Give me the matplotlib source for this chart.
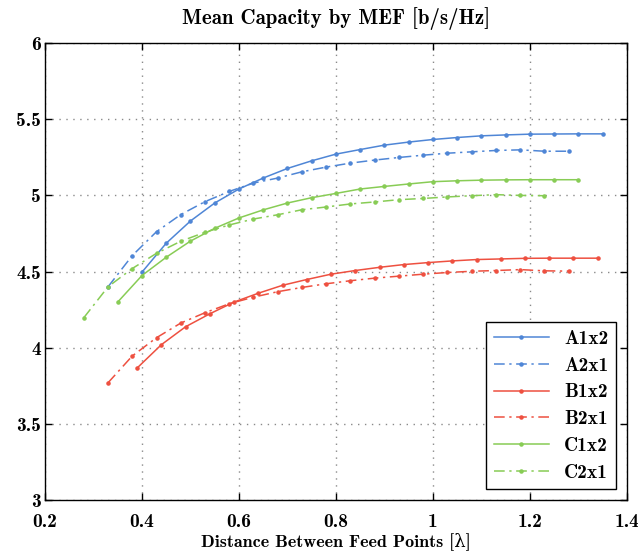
import numpy as np
import matplotlib
matplotlib.use('Agg')
import matplotlib.pyplot as plt

# ---------------------------------------------
# Mean capacity vs. feed point spacing
# ---------------------------------------------
x_a1x2 = [0.40, 0.45, 0.50, 0.55, 0.60, 0.65, 0.70, 0.75, 0.80, 0.85,
          0.90, 0.95, 1.00, 1.05, 1.10, 1.15, 1.20, 1.25, 1.30, 1.35]
cap_a1x2 = [4.496, 4.686, 4.832, 4.950, 5.042, 5.114, 5.177, 5.227, 5.271, 5.301,
            5.330, 5.350, 5.367, 5.380, 5.391, 5.397, 5.402, 5.403, 5.404, 5.404]

x_a2x1 = [0.33, 0.38, 0.43, 0.48, 0.53, 0.58, 0.63, 0.68, 0.73, 0.78,
          0.83, 0.88, 0.93, 0.98, 1.03, 1.08, 1.13, 1.18, 1.23, 1.28]
cap_a2x1 = [4.400, 4.605, 4.762, 4.874, 4.959, 5.026, 5.081, 5.114, 5.155, 5.186,
            5.212, 5.232, 5.249, 5.264, 5.277, 5.286, 5.295, 5.299, 5.290, 5.290]

x_b1x2 = [0.39, 0.44, 0.49, 0.54, 0.59, 0.64, 0.69, 0.74, 0.79, 0.84,
          0.89, 0.94, 0.99, 1.04, 1.09, 1.14, 1.19, 1.24, 1.29, 1.34]
cap_b1x2 = [3.867, 4.020, 4.138, 4.223, 4.300, 4.358, 4.410, 4.448, 4.483, 4.507,
            4.528, 4.546, 4.559, 4.570, 4.579, 4.583, 4.587, 4.588, 4.588, 4.588]

x_b2x1 = [0.33, 0.38, 0.43, 0.48, 0.53, 0.58, 0.63, 0.68, 0.73, 0.78,
          0.83, 0.88, 0.93, 0.98, 1.03, 1.08, 1.13, 1.18, 1.23, 1.28]
cap_b2x1 = [3.770, 3.946, 4.066, 4.162, 4.230, 4.289, 4.332, 4.368, 4.396, 4.420,
            4.440, 4.457, 4.470, 4.483, 4.494, 4.502, 4.507, 4.513, 4.505, 4.503]

x_c1x2 = [0.35, 0.40, 0.45, 0.50, 0.55, 0.60, 0.65, 0.70, 0.75, 0.80,
          0.85, 0.90, 0.95, 1.00, 1.05, 1.10, 1.15, 1.20, 1.25, 1.30]
cap_c1x2 = [4.300, 4.474, 4.594, 4.700, 4.784, 4.852, 4.905, 4.950, 4.985, 5.013,
            5.042, 5.059, 5.075, 5.090, 5.096, 5.100, 5.102, 5.103, 5.103, 5.103]

x_c2x1 = [0.28, 0.33, 0.38, 0.43, 0.48, 0.53, 0.58, 0.63, 0.68, 0.73,
          0.78, 0.83, 0.88, 0.93, 0.98, 1.03, 1.08, 1.13, 1.18, 1.23]
cap_c2x1 = [4.197, 4.400, 4.520, 4.620, 4.699, 4.758, 4.806, 4.845, 4.873, 4.906,
            4.924, 4.944, 4.957, 4.972, 4.980, 4.990, 4.998, 5.005, 5.000, 4.998]

x_ticks = [0.2, 0.4, 0.6, 0.8, 1.0, 1.2, 1.4]
x_tick_labels = ['0.2', '0.4', '0.6', '0.8', '1', '1.2', '1.4']
y_ticks = [3, 3.5, 4, 4.5, 5, 5.5, 6]
y_tick_labels = ['3', '3.5', '4', '4.5', '5', '5.5', '6']

# Style
plt.rcParams['font.family'] = ['cmb10', 'DejaVu Serif']
plt.rcParams['font.size'] = 14
plt.rcParams['axes.unicode_minus'] = False
plt.rcParams['axes.linewidth'] = 1.0

col_a = '#4f86d6'
col_b = '#ee5040'
col_c = '#88cc55'
dashdot = (0, (7, 3, 1.5, 3))

fig = plt.figure(figsize=(6.38, 5.52), dpi=100)
ax = fig.add_axes([0.0705, 0.094, 0.912, 0.828])

series = [
    (x_a1x2, cap_a1x2, col_a, '-', 'A1x2'),
    (x_a2x1, cap_a2x1, col_a, dashdot, 'A2x1'),
    (x_b1x2, cap_b1x2, col_b, '-', 'B1x2'),
    (x_b2x1, cap_b2x1, col_b, dashdot, 'B2x1'),
    (x_c1x2, cap_c1x2, col_c, '-', 'C1x2'),
    (x_c2x1, cap_c2x1, col_c, dashdot, 'C2x1'),
]
for xs, ys, c, ls, lab in series:
    ax.plot(xs, ys, color=c, linestyle=ls, linewidth=1.1,
            marker='.', markersize=4.5, label=lab)

ax.set_xlim(0.2, 1.4)
ax.set_ylim(3, 6)
ax.set_xticks(x_ticks)
ax.set_xticklabels(x_tick_labels)
ax.set_yticks(y_ticks)
ax.set_yticklabels(y_tick_labels)
ax.tick_params(direction='in', top=True, right=True, length=5, width=1.0,
               labelsize=14)
ax.tick_params(axis='x', pad=9)
ax.tick_params(axis='y', pad=3)
ax.grid(True, linestyle=(0, (1, 4)), color='#8a8a8a', linewidth=1.0)

ax.set_title('Mean Capacity by MEF [b/s/Hz]', fontsize=15, pad=14)
ax.set_xlabel('Distance Between Feed Points [λ]', fontsize=13, labelpad=1)

leg = ax.legend(loc='lower right', fancybox=False, edgecolor='black',
                framealpha=1.0, fontsize=14, handlelength=2.8,
                borderaxespad=0.55, labelspacing=0.45)
leg.get_frame().set_linewidth(1.0)

fig.savefig('out.png', dpi=100)
